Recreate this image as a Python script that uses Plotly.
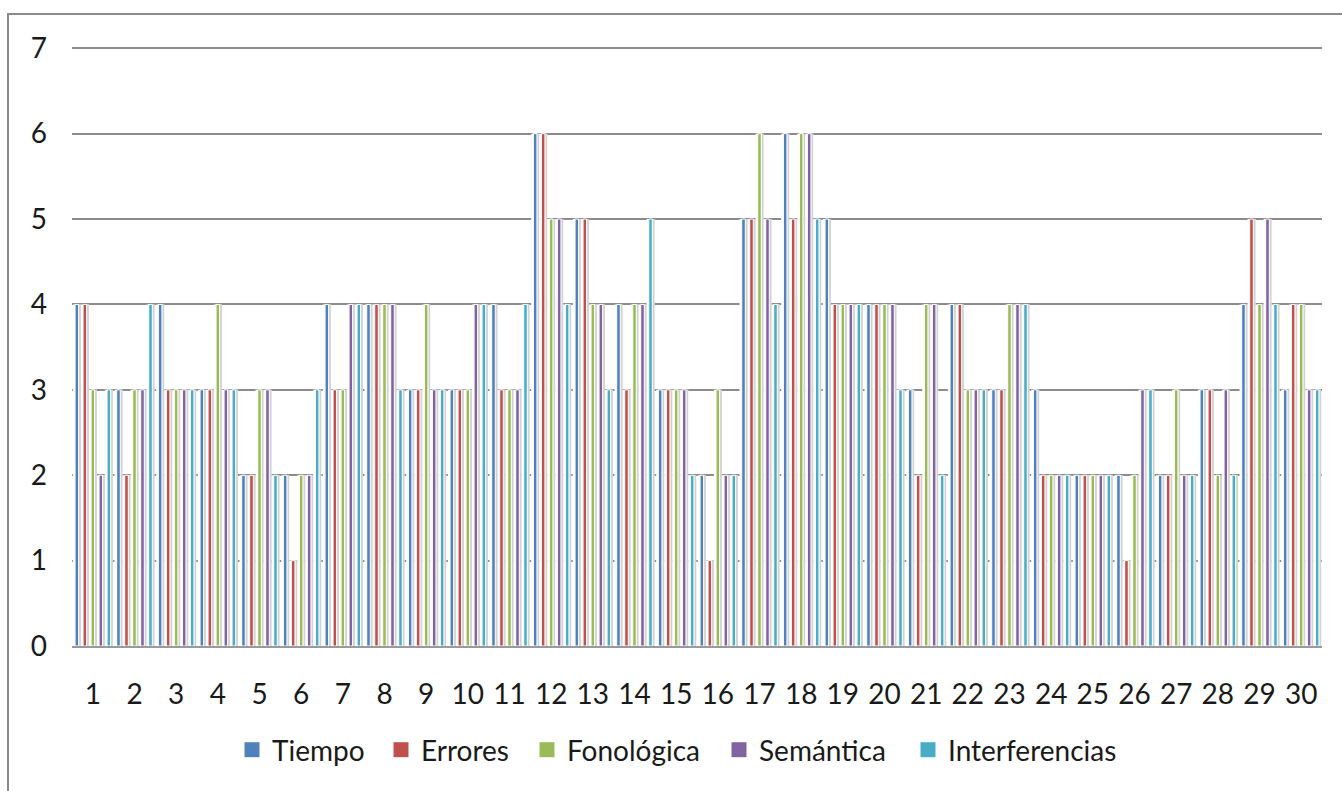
import plotly.graph_objects as go

# Scores per subject (1-30) on each of the five measures
sujetos = list(range(1, 31))
tiempo = [4, 3, 4, 3, 2, 2, 4, 4, 3, 3, 4, 6, 5, 4, 3, 2, 5, 6, 5, 4, 3, 4, 3, 3, 2, 2, 2, 3, 4, 3]
errores = [4, 2, 3, 3, 2, 1, 3, 4, 3, 3, 3, 6, 5, 3, 3, 1, 5, 5, 4, 4, 2, 4, 3, 2, 2, 1, 2, 3, 5, 4]
fonologica = [3, 3, 3, 4, 3, 2, 3, 4, 4, 3, 3, 5, 4, 4, 3, 3, 6, 6, 4, 4, 4, 3, 4, 2, 2, 2, 3, 2, 4, 4]
semantica = [2, 3, 3, 3, 3, 2, 4, 4, 3, 4, 3, 5, 4, 4, 3, 2, 5, 6, 4, 4, 4, 3, 4, 2, 2, 3, 2, 3, 5, 3]
interferencias = [3, 4, 3, 3, 2, 3, 4, 3, 3, 4, 4, 4, 3, 5, 2, 2, 4, 5, 4, 3, 2, 3, 4, 2, 2, 3, 2, 2, 4, 3]

series = [
    ("Tiempo", tiempo, "#4F81BD"),
    ("Errores", errores, "#C0504D"),
    ("Fonológica", fonologica, "#9BBB59"),
    ("Semántica", semantica, "#8064A2"),
    ("Interferencias", interferencias, "#4BACC6"),
]
y_ticks = [0, 1, 2, 3, 4, 5, 6, 7]

FONT = "Lato, Liberation Sans, sans-serif"
FS = 28
slot = 0.192      # spacing between the five columns of a subject
bar_w = 0.085     # coloured column width

# page geometry (pixels)
L, R, T, B = 72, 20, 47, 145
W, H = 1342, 791
pw, ph = W - L - R, H - T - B

fig = go.Figure()

# white backing columns so the gridlines only show above the columns
for i, (name, vals, color) in enumerate(series):
    center = (i - 2) * slot
    fig.add_trace(go.Bar(
        x=sujetos, y=vals, width=slot, offset=center - slot / 2,
        marker=dict(color="white", line=dict(width=0)),
        showlegend=False, hoverinfo="skip",
    ))

# soft grey side shading to the right of each column
for i, (name, vals, color) in enumerate(series):
    center = (i - 2) * slot
    fig.add_trace(go.Bar(
        x=sujetos, y=vals, width=0.05, offset=center + bar_w / 2 + 0.005,
        marker=dict(color="#d2d2d2", line=dict(width=0)),
        showlegend=False, hoverinfo="skip",
    ))

# the coloured columns
for i, (name, vals, color) in enumerate(series):
    center = (i - 2) * slot
    fig.add_trace(go.Bar(
        x=sujetos, y=vals, name=name, width=bar_w, offset=center - bar_w / 2,
        marker=dict(color=color, line=dict(color="white", width=1)),
        showlegend=False,
    ))

# legend keys: one legend box per series, spaced like the original layout
legend_left_px = [232, 381, 527, 719, 908]
legends = {}
for i, (name, vals, color) in enumerate(series):
    key = "legend" if i == 0 else f"legend{i + 1}"
    fig.add_trace(go.Scatter(
        x=[None], y=[None], mode="markers", name=name,
        marker=dict(symbol="square", size=15, color=color, line=dict(width=0)),
        legend=key, showlegend=True,
    ))
    legends[key] = dict(
        orientation="h", x=(legend_left_px[i] - L) / pw, xanchor="left",
        y=-(750 - (T + ph)) / ph, yanchor="middle",
        font=dict(family=FONT, size=FS, color="#1a1a1a"),
        itemwidth=30, itemsizing="trace", bgcolor="rgba(0,0,0,0)",
    )

# outer chart frame
fig.add_shape(
    type="rect", xref="paper", yref="paper",
    x0=(8 - L) / pw, x1=(W + 4 - L) / pw,
    y0=-(H + 4 - (T + ph)) / ph, y1=(T + ph - 14) / ph,
    line=dict(color="#8a8a8a", width=2), fillcolor="rgba(0,0,0,0)", layer="below",
)

fig.update_layout(
    width=W, height=H,
    margin=dict(l=L, r=R, t=T, b=B),
    barmode="overlay",
    paper_bgcolor="white", plot_bgcolor="white",
    font=dict(family=FONT, size=FS, color="#1a1a1a"),
    showlegend=True,
    xaxis=dict(
        range=[0.5, 30.5], tickmode="array", tickvals=sujetos,
        ticktext=[str(s) for s in sujetos],
        showgrid=False, zeroline=False, showline=True, linecolor="#9a9a9a", linewidth=2,
        ticks="", ticklabelstandoff=22, tickfont=dict(size=FS),
    ),
    yaxis=dict(
        range=[0, 7.015], tickmode="array", tickvals=y_ticks,
        showgrid=True, gridcolor="#8c8c8c", gridwidth=1.5,
        zeroline=False, showline=False, ticks="",
        ticklabelstandoff=24, tickfont=dict(size=FS),
    ),
    **legends,
)

fig.write_html("out.html")
